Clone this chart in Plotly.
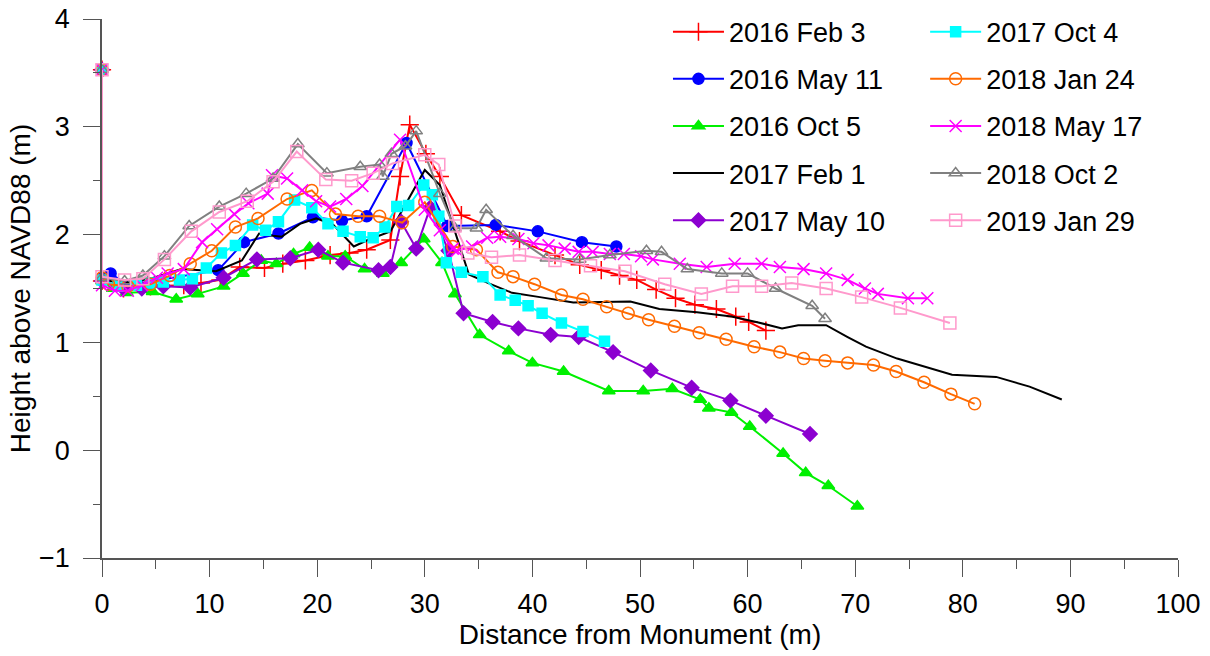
import plotly.graph_objects as go

# Beach profile surveys: distance from monument (m) vs height above NAVD88 (m)
feb16_x = [0, 0, 2.0, 4.5, 7.6, 9.2, 11.0, 12.8, 15.1, 16.8, 18.9, 21.2, 23.0, 24.6, 26.8, 27.7, 28.6, 30.1, 31.4, 33.4,
           37.0, 38.8, 42.1, 44.4, 46.4, 48.1, 49.7, 51.5, 53.3, 55.1, 57.1, 58.9, 60.1, 61.7]
feb16_y = [3.53, 1.57, 1.50, 1.52, 1.53, 1.55, 1.58, 1.70, 1.69, 1.73, 1.76, 1.81, 1.83, 1.86, 1.95, 2.54, 3.02, 2.75, 2.54, 2.18,
           2.03, 1.94, 1.81, 1.72, 1.67, 1.62, 1.58, 1.49, 1.41, 1.35, 1.31, 1.24, 1.19, 1.11]

may16_x = [0, 0, 0.8, 2.4, 10.8, 13.2, 16.4, 19.6, 22.3, 24.6, 28.3, 32.1, 36.6, 40.5, 44.6, 47.8]
may16_y = [3.53, 1.60, 1.64, 1.53, 1.67, 1.93, 2.01, 2.16, 2.13, 2.17, 2.85, 2.08, 2.09, 2.03, 1.93, 1.89]

oct16_x = [0, 0, 1.0, 2.3, 4.7, 6.9, 8.9, 11.3, 13.1, 14.8, 16.2, 17.8, 19.3, 21.0, 22.6, 24.4, 26.1, 27.8, 29.9, 31.6,
           32.8, 35.1, 37.8, 40.0, 42.9, 47.1, 50.3, 53.0, 55.6, 56.4, 58.5, 60.2, 63.3, 65.4, 67.5, 70.2]
oct16_y = [3.53, 1.57, 1.50, 1.46, 1.47, 1.40, 1.45, 1.52, 1.64, 1.76, 1.73, 1.82, 1.88, 1.80, 1.80, 1.68, 1.64, 1.74, 1.96, 1.74,
           1.45, 1.07, 0.92, 0.81, 0.73, 0.55, 0.55, 0.57, 0.47, 0.39, 0.35, 0.22, -0.03, -0.21, -0.33, -0.52]

feb17_x = [0, 0, 2.0, 4.5, 7.4, 10.6, 13.0, 14.6, 15.9, 16.7, 18.4, 19.9, 21.5, 23.4, 24.7, 26.8, 30.0, 31.4, 32.6, 34.1,
           35.9, 38.1, 40.7, 43.8, 49.1, 51.8, 55.3, 58.5, 60.8, 63.2, 64.7, 67.3, 69.3, 71.0, 73.9, 79.0, 83.1, 86.2, 89.2]
feb17_y = [3.53, 1.58, 1.55, 1.59, 1.68, 1.66, 1.76, 2.01, 1.99, 1.98, 2.10, 2.15, 2.09, 1.89, 1.95, 2.03, 2.60, 2.46, 2.09, 1.63,
           1.55, 1.46, 1.42, 1.37, 1.38, 1.31, 1.28, 1.24, 1.19, 1.13, 1.16, 1.16, 1.05, 0.96, 0.85, 0.70, 0.68, 0.59, 0.47]

may17_x = [0, 0, 2.0, 3.7, 5.7, 8.2, 11.3, 14.4, 17.5, 20.1, 22.4, 25.7, 26.8, 27.8, 29.2, 30.5, 32.2, 33.6, 36.3, 38.7,
           41.7, 44.3, 47.5, 51.0, 54.8, 58.4, 61.7, 65.8]
may17_y = [3.53, 1.57, 1.50, 1.50, 1.52, 1.51, 1.60, 1.77, 1.78, 1.86, 1.74, 1.67, 1.70, 2.12, 1.87, 2.25, 1.85, 1.27, 1.19, 1.13,
           1.07, 1.05, 0.91, 0.74, 0.58, 0.46, 0.32, 0.15]

oct17_x = [0, 0, 1.5, 3.2, 4.5, 5.7, 7.2, 8.4, 9.7, 11.1, 12.4, 14.0, 15.2, 16.4, 17.9, 19.5, 21.0, 22.4, 24.0, 25.2,
           26.3, 27.4, 28.5, 29.9, 30.7, 31.3, 32.0, 33.4, 35.4, 37.0, 38.4, 39.6, 40.9, 42.7, 44.7, 46.7]
oct17_y = [3.53, 1.58, 1.52, 1.53, 1.55, 1.56, 1.58, 1.59, 1.69, 1.83, 1.90, 2.09, 2.04, 2.12, 2.32, 2.25, 2.10, 2.03, 1.98, 1.97,
           2.07, 2.26, 2.27, 2.46, 2.37, 2.17, 1.74, 1.65, 1.61, 1.44, 1.39, 1.34, 1.27, 1.18, 1.10, 1.01]

jan18_x = [0, 0, 0.6, 2.4, 4.5, 6.3, 8.2, 10.2, 12.4, 14.5, 17.2, 19.5, 21.7, 23.8, 25.8, 27.9, 30.0, 32.6, 34.8, 36.8,
           38.2, 40.2, 42.7, 44.7, 46.9, 48.9, 50.8, 53.2, 55.5, 58.0, 60.6, 63.0, 65.2, 67.2, 69.3, 71.7, 73.8, 76.4, 78.9, 81.1]
jan18_y = [3.53, 1.60, 1.54, 1.52, 1.54, 1.62, 1.73, 1.85, 2.07, 2.15, 2.33, 2.41, 2.19, 2.17, 2.17, 2.11, 2.30, 1.89, 1.86, 1.65,
           1.61, 1.54, 1.44, 1.40, 1.33, 1.27, 1.21, 1.15, 1.09, 1.03, 0.96, 0.91, 0.85, 0.83, 0.81, 0.79, 0.73, 0.63, 0.52, 0.43]

may18_x = [0, 0, 1.2, 2.4, 3.7, 5.1, 6.1, 7.6, 9.3, 10.7, 12.3, 13.6, 15.4, 15.8, 17.2, 18.6, 19.9, 21.2, 22.7, 24.2,
           27.7, 30.0, 31.4, 32.6, 33.0, 34.4, 35.8, 37.0, 38.7, 40.1, 41.5, 43.0, 44.3, 45.6, 47.2, 48.5, 50.1, 51.2,
           53.7, 56.2, 58.8, 61.3, 63.0, 65.2, 67.3, 69.3, 70.9, 72.1, 74.9, 76.7]
may18_y = [3.53, 1.53, 1.48, 1.48, 1.53, 1.60, 1.64, 1.68, 1.93, 2.05, 2.19, 2.29, 2.38, 2.55, 2.52, 2.41, 2.31, 2.26, 2.33, 2.45,
           2.88, 2.23, 2.04, 1.87, 1.85, 1.89, 1.97, 1.98, 1.96, 1.92, 1.90, 1.87, 1.84, 1.84, 1.82, 1.82, 1.80, 1.77,
           1.73, 1.70, 1.73, 1.73, 1.70, 1.68, 1.64, 1.58, 1.50, 1.45, 1.41, 1.41]

oct18_x = [0, 0, 2.1, 3.8, 5.8, 8.1, 10.9, 13.4, 15.9, 18.2, 20.9, 24.0, 25.8, 26.1, 26.9, 28.2, 29.2, 31.4, 32.8, 34.8,
           35.7, 38.2, 41.3, 44.4, 47.2, 50.6, 52.0, 54.4, 57.6, 60.0, 62.6, 66.0, 67.2]
oct18_y = [3.53, 1.60, 1.57, 1.62, 1.80, 2.08, 2.26, 2.38, 2.52, 2.84, 2.57, 2.63, 2.65, 2.54, 2.75, 2.82, 2.96, 2.38, 2.06, 2.06,
           2.23, 1.99, 1.78, 1.77, 1.81, 1.85, 1.84, 1.68, 1.64, 1.64, 1.50, 1.34, 1.22]

jan19_x = [0, 0, 2.1, 3.8, 5.8, 8.3, 10.9, 13.5, 15.9, 18.1, 20.8, 23.2, 25.2, 27.0, 30.0, 31.3, 32.8, 34.0, 36.2, 38.8,
           42.1, 45.4, 48.6, 52.3, 55.7, 58.6, 61.3, 64.1, 67.3, 70.6, 74.2, 78.8]
jan19_y = [3.53, 1.61, 1.58, 1.59, 1.77, 2.03, 2.21, 2.31, 2.49, 2.77, 2.51, 2.50, 2.57, 2.66, 2.74, 2.65, 2.08, 1.83, 1.79, 1.81,
           1.76, 1.71, 1.66, 1.54, 1.45, 1.52, 1.52, 1.55, 1.50, 1.42, 1.32, 1.18]

series = [
    # name, x, y, color, symbol, size, legend
    ("2016 Feb 3", feb16_x, feb16_y, "#FF0000", "cross-thin-open", 13, "legend"),
    ("2016 May 11", may16_x, may16_y, "#0000FF", "circle", 11, "legend"),
    ("2016 Oct 5", oct16_x, oct16_y, "#00F000", "triangle-up", 11, "legend"),
    ("2017 Feb 1", feb17_x, feb17_y, "#000000", None, 0, "legend"),
    ("2017 May 10", may17_x, may17_y, "#8C00D0", "diamond", 11, "legend"),
    ("2017 Oct 4", oct17_x, oct17_y, "#00FFFF", "square", 10, "legend2"),
    ("2018 Jan 24", jan18_x, jan18_y, "#FF6A00", "circle-open", 12, "legend2"),
    ("2018 May 17", may18_x, may18_y, "#FF00FF", "x-thin-open", 12, "legend2"),
    ("2018 Oct 2", oct18_x, oct18_y, "#808080", "triangle-up-open", 11, "legend2"),
    ("2019 Jan 29", jan19_x, jan19_y, "#FF99CC", "square-open", 12, "legend2"),
]

fig = go.Figure()
for name, xs, ys, col, sym, size, leg in series:
    if sym is None:
        fig.add_trace(go.Scatter(x=xs, y=ys, name=name, mode="lines", legend=leg, legendgroup=name,
                                 line=dict(color=col, width=2), cliponaxis=False))
    else:
        fig.add_trace(go.Scatter(x=xs, y=ys, name=name, mode="lines+markers", legend=leg, legendgroup=name,
                                 line=dict(color=col, width=2),
                                 marker=dict(symbol=sym, size=size, color=col, line=dict(color=col, width=1.5)),
                                 cliponaxis=False))

font = "Liberation Sans, Arial, sans-serif"
leg_common = dict(font=dict(family=font, size=27, color="black"), bgcolor="rgba(0,0,0,0)",
                  traceorder="grouped", tracegroupgap=9, itemwidth=51,
                  xanchor="left", yanchor="top", y=1.021)

fig.update_layout(
    width=1210, height=656,
    margin=dict(l=102, r=32, t=19, b=98, autoexpand=False),
    plot_bgcolor="white", paper_bgcolor="white",
    font=dict(family=font, size=27, color="black"),
    showlegend=True,
    legend=dict(x=0.526, **leg_common),
    legend2=dict(x=0.765, **leg_common),
    xaxis=dict(range=[0, 100], dtick=10, ticks="outside", ticklen=17, tickwidth=1, tickcolor="#555",
               showline=True, linecolor="#555", linewidth=1.5, showgrid=False, zeroline=False,
               minor=dict(dtick=5, ticks="outside", ticklen=9, tickcolor="#555", showgrid=False),
               ticklabelstandoff=4, automargin=False, ticklabeloverflow="allow",
               title=dict(text="Distance from Monument (m)", font=dict(size=28), standoff=2),
               tickfont=dict(size=27)),
    yaxis=dict(range=[-1, 4], dtick=1, ticks="outside", ticklen=17, tickwidth=1, tickcolor="#555",
               showline=True, linecolor="#555", linewidth=1.5, showgrid=False, zeroline=False,
               minor=dict(dtick=0.5, ticks="outside", ticklen=7, tickcolor="#555", showgrid=False),
               ticklabelstandoff=8, automargin=False, ticklabeloverflow="allow",
               title=dict(text="Height above NAVD88 (m)", font=dict(size=28), standoff=0),
               tickfont=dict(size=27)),
)

# drop the default 8px page margin so the figure fills the window exactly
fig.write_html("out.html", config={"displayModeBar": False},
               post_script="document.body.style.margin = '0';")
